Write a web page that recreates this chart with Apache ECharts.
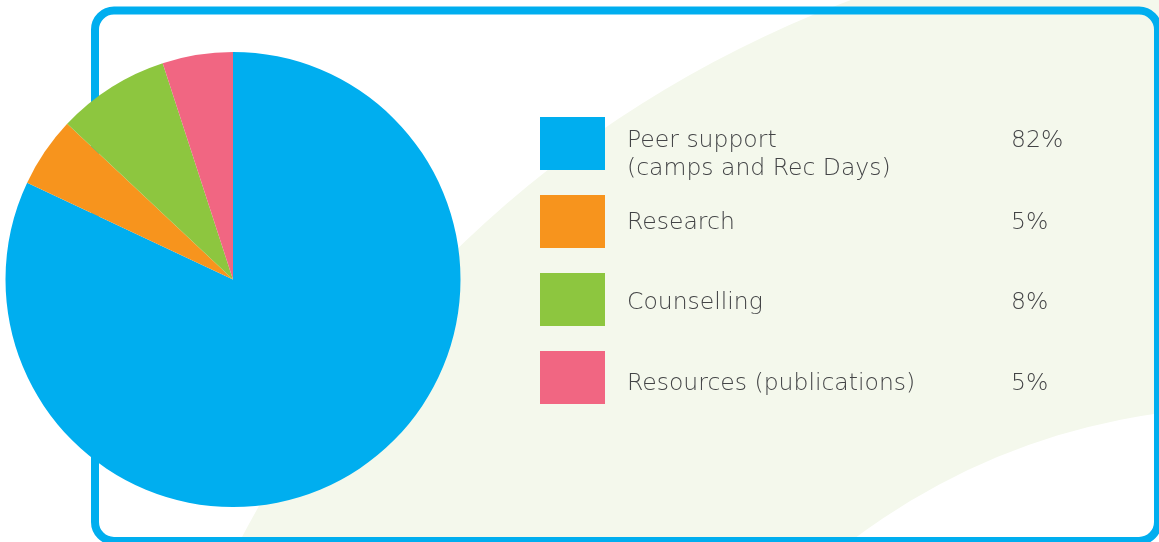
<!DOCTYPE html>
<html>
<head>
<meta charset="utf-8">
<title>Funding allocation</title>
<script src="https://cdn.jsdelivr.net/npm/echarts@6/dist/echarts.min.js"></script>
<style>
  html, body { margin: 0; padding: 0; background: #ffffff; }
  #chart { width: 1159px; height: 542px; }
</style>
</head>
<body>
<div id="chart"></div>
<script>
// Spending categories (line breaks are where the key text wraps)
const categories = ['Peer support\n(camps and Rec Days)', 'Research', 'Counselling', 'Resources (publications)'];
// Share of spending, percent
const values = [82, 5, 8, 5];
const colors = ['#00aeef', '#f7941d', '#8dc63f', '#f16682'];

// Key layout: swatch column, text column, value column
const KEY = {
  swatchX: 540, swatchTop: 117, rowStep: 78, swatchW: 65, swatchH: 53,
  textX: 627, valueX: 1011, lineHeight: 27.5,
  // vertical centre of the first text line in each row
  textMid: [141, 222.5, 302.5, 384]
};
const keyFont = { fontFamily: '"DejaVu Sans", sans-serif', fontSize: 23.5, fontWeight: 200, fill: '#434446' };

function keyElements() {
  const els = [];
  categories.forEach(function (name, i) {
    const lines = name.split('\n');
    els.push({
      type: 'rect', z: 5, silent: true,
      shape: { x: KEY.swatchX, y: KEY.swatchTop + KEY.rowStep * i, width: KEY.swatchW, height: KEY.swatchH },
      style: { fill: colors[i] }
    });
    lines.forEach(function (line, k) {
      els.push({
        type: 'text', z: 5, silent: true,
        x: KEY.textX, y: KEY.textMid[i] + KEY.lineHeight * k,
        style: Object.assign({ text: line, verticalAlign: 'middle', align: 'left' }, keyFont)
      });
    });
    els.push({
      type: 'text', z: 5, silent: true,
      x: KEY.valueX, y: KEY.textMid[i],
      style: Object.assign({ text: values[i] + '%', verticalAlign: 'middle', align: 'left' }, keyFont)
    });
  });
  return els;
}

const chart = echarts.init(document.getElementById('chart'), null, { renderer: 'canvas' });

chart.setOption({
  animation: false,
  color: colors,
  graphic: [
    // soft green sweep behind the key
    {
      type: 'ring', z: 0, silent: true,
      shape: { cx: 1249, cy: 1065, r: 1137, r0: 658 },
      style: { fill: '#f4f8ec' }
    },
    // rounded frame
    {
      type: 'rect', z: 1, silent: true,
      shape: { x: 95, y: 10.5, width: 1063, height: 530.5, r: 19 },
      style: { fill: 'none', stroke: '#00aeef', lineWidth: 8 }
    }
  ].concat(keyElements()),
  series: [
    {
      type: 'pie',
      center: [233, 279.5],
      radius: [0, 227.5],
      startAngle: 90,
      clockwise: true,
      label: { show: false },
      labelLine: { show: false },
      emphasis: { disabled: true },
      itemStyle: { borderWidth: 0 },
      data: categories.map(function (c, i) { return { name: c.replace('\n', ' '), value: values[i] }; })
    }
  ]
});
</script>
</body>
</html>
